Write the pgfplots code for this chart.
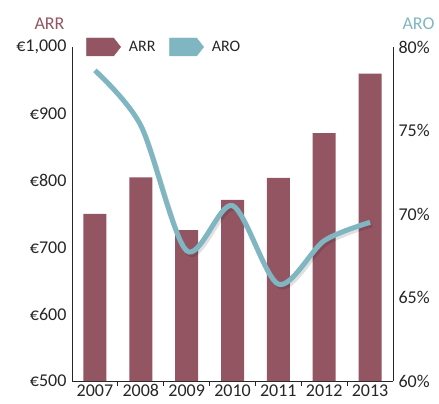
\documentclass[border=0pt]{standalone}
\usepackage{pgfplots}
\pgfplotsset{compat=1.18}
\usepackage{pgfplotstable}
\usepackage{fontspec}
\setmainfont{Carlito}

\definecolor{arr}{HTML}{945563}
\definecolor{aro}{HTML}{7FB6C1}
\definecolor{txt}{HTML}{262626}

\pgfplotstableread{
x year arr aro
0 2007 750 78.6
1 2008 805 75.3
2 2009 726 67.8
3 2010 771 70.5
4 2011 804 65.8
5 2012 871 68.4
6 2013 960 69.5
}\datatable

\pgfplotsset{
  common/.style={
    scale only axis, width=321pt, height=334pt,
    xmin=-0.5, xmax=6.5,
    axis line style={txt, line width=0.8pt, -},
    tick label style={txt},
    major tick length=0pt,
    /pgf/number format/assume math mode=true,
  },
}

\begin{document}
\begin{tikzpicture}[font=\fontsize{18}{21}\selectfont]
\begin{axis}[
  common,
  ymin=500, ymax=1000,
  axis y line*=left, axis x line*=bottom,
  xtick={0,...,6},
  xticklabels={2007,2008,2009,2010,2011,2012,2013},
  xticklabel style={anchor=base, yshift=-15pt},
  ytick={500,600,...,1000},
  yticklabels={€500,€600,€700,€800,€900,{€1,000}},
  yticklabel style={xshift=-2pt},
  extra x ticks={0.5,1.5,2.5,3.5,4.5,5.5},
  extra x tick labels={},
  extra x tick style={major tick length=5pt, tick align=outside, tick style={txt, line width=0.8pt}},
  legend columns=2,
  legend style={draw=none, fill=none, font=\fontsize{16}{18}\selectfont,
    at={(0.035,1.0)}, anchor=west, text=txt,
    /tikz/every odd column/.append style={column sep=6pt},
    /tikz/every even column/.append style={column sep=12pt}},
]
\addlegendimage{legend image code/.code={\fill[arr] (0pt,-9pt) -- (27pt,-9pt) -- (34pt,0pt) -- (27pt,9pt) -- (0pt,9pt) -- cycle;}}
\addlegendentry{ARR}
\addlegendimage{legend image code/.code={\fill[aro] (0pt,-9pt) -- (27pt,-9pt) -- (34pt,0pt) -- (27pt,9pt) -- (0pt,9pt) -- cycle;}}
\addlegendentry{ARO}
\addplot[ybar, bar width=23pt, fill=arr, draw=none, forget plot] table[x=x, y=arr] {\datatable};
\end{axis}

\begin{axis}[
  common,
  ymin=60, ymax=80,
  axis y line*=right, axis x line=none,
  ytick={60,65,...,80},
  yticklabel={\pgfmathprintnumber{\tick}\%},
  yticklabel style={xshift=2pt},
]
\addplot[smooth, line width=4pt, black, opacity=0.12, xshift=2pt, yshift=-3pt] table[x=x, y=aro] {\datatable};
\addplot[smooth, line width=5pt, aro] table[x=x, y=aro] {\datatable};
\end{axis}

\node[text=arr, anchor=base east] at ([xshift=-4pt, yshift=17pt]current axis.north west) {ARR};
\node[text=aro, anchor=base west] at ([xshift=6pt, yshift=17pt]current axis.north east) {ARO};

\pgfresetboundingbox
\path ([xshift=-72pt, yshift=-22pt]current axis.south west) rectangle ([xshift=46pt, yshift=47pt]current axis.north east);
\end{tikzpicture}
\end{document}
